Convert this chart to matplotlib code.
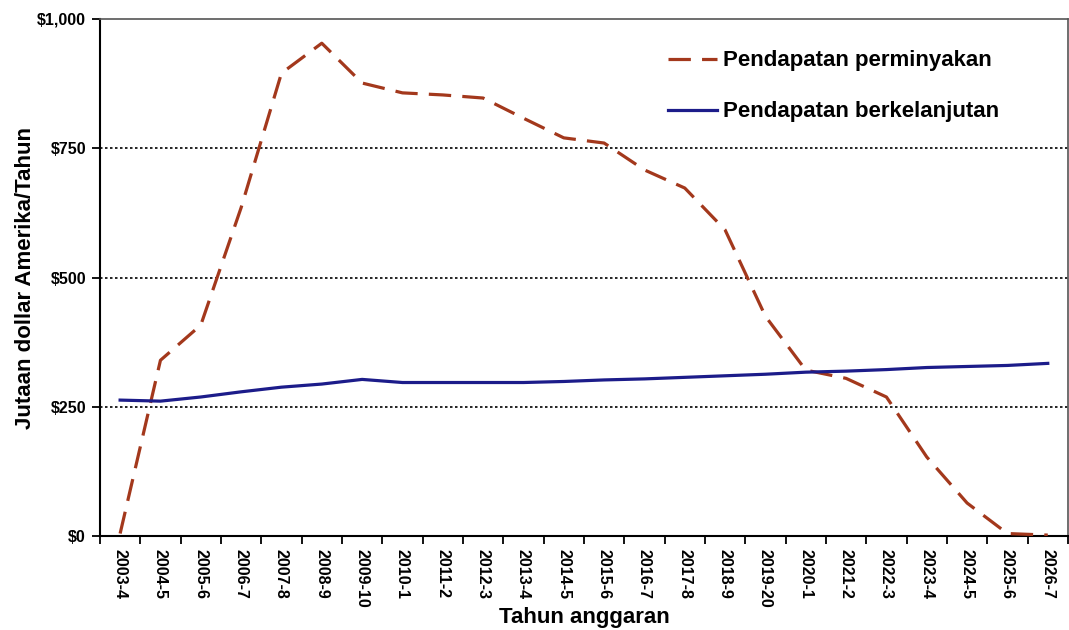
import numpy as np
import matplotlib.pyplot as plt
from matplotlib.ticker import FuncFormatter

plt.rcParams['font.family'] = ['Liberation Sans', 'DejaVu Sans']

years = ["2003-4", "2004-5", "2005-6", "2006-7", "2007-8", "2008-9", "2009-10",
         "2010-1", "2011-2", "2012-3", "2013-4", "2014-5", "2015-6", "2016-7",
         "2017-8", "2018-9", "2019-20", "2020-1", "2021-2", "2022-3", "2023-4",
         "2024-5", "2025-6", "2026-7"]
oil = [5, 340, 408, 635, 895, 953, 876, 857, 853, 847, 808, 770, 760, 708,
       673, 592, 425, 321, 305, 269, 153, 64, 5, 2]
sustainable = [263, 261, 269, 279, 288, 294, 303, 297, 297, 297, 297, 299, 302, 304,
               307, 310, 313, 317, 319, 322, 326, 328, 330, 334]

fig = plt.figure(figsize=(10.69, 6.3), dpi=100)
ax = fig.add_axes([0.0935, 0.149, 0.9055, 0.821])

x = np.arange(len(years))

for yv in [250, 500, 750]:
    ax.axhline(yv, color="black", lw=1.2, linestyle=(0, (1.5, 1.5)), zorder=1)

ax.plot(x, oil, color="#a3381c", lw=2.3, dashes=(7, 3.5),
        label="Pendapatan perminyakan", zorder=3)
ax.plot(x, sustainable, color="#1c1c8a", lw=2.3,
        label="Pendapatan berkelanjutan", zorder=3)

ax.set_xlim(-0.5, len(years) - 0.5)
ax.set_ylim(0, 1000)
ax.set_yticks([0, 250, 500, 750, 1000])
ax.yaxis.set_major_formatter(FuncFormatter(lambda v, p: "${:,.0f}".format(v)))

ax.set_xticks(x)
ax.set_xticklabels(years, rotation=270, fontsize=11.5, fontweight="bold")
ax.set_xticks(np.arange(-0.5, len(years)), minor=True)
ax.tick_params(axis="x", which="major", length=0, pad=9)
ax.tick_params(axis="x", which="minor", length=6, width=1.3, direction="out")
ax.tick_params(axis="y", length=6, width=1.3, labelsize=11.5, pad=4)
for lab in ax.get_yticklabels():
    lab.set_fontweight("bold")

for s in ["left", "bottom"]:
    ax.spines[s].set_linewidth(1.5)
    ax.spines[s].set_color("black")
for s in ["top", "right"]:
    ax.spines[s].set_linewidth(1.2)
    ax.spines[s].set_color("#555555")

ax.set_xlabel("Tahun anggaran", fontsize=16, fontweight="bold", labelpad=0)
ax.set_ylabel("Jutaan dollar Amerika/Tahun", fontsize=16, fontweight="bold", labelpad=1)

leg = ax.legend(loc="upper right", bbox_to_anchor=(0.95, 0.978), frameon=False,
                handlelength=2.2, handletextpad=0.3, labelspacing=1.35,
                prop={"weight": "bold", "size": 16})

fig.savefig("out.png", dpi=100)
